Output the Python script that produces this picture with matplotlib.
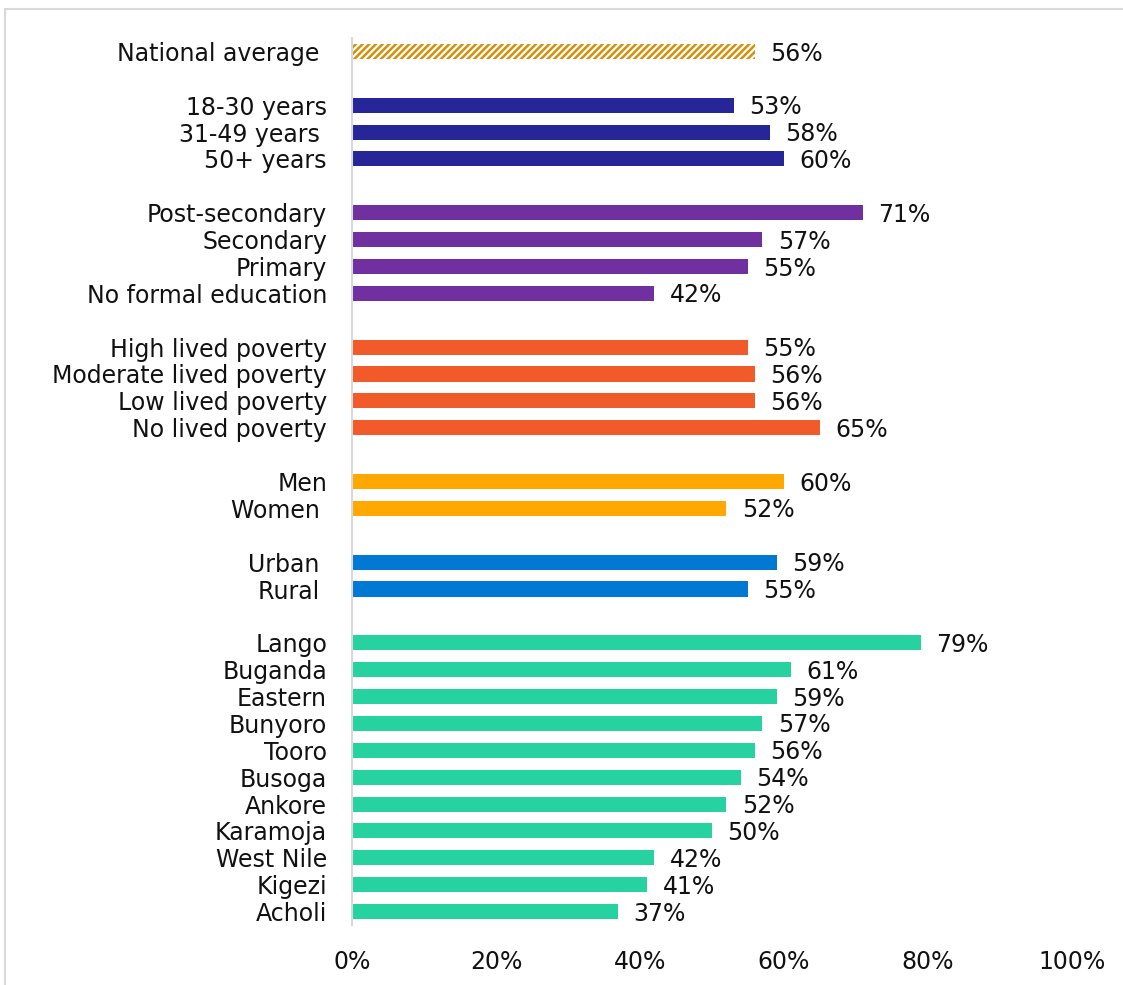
import matplotlib
matplotlib.use("Agg")
import matplotlib.pyplot as plt
from matplotlib.patches import Rectangle

plt.rcParams['font.family'] = ['DejaVu Sans']
plt.rcParams['hatch.linewidth'] = 1.8

# ---- data ----
national_label = ["National average "]
national_values = [56]

age_labels = ["18-30 years", "31-49 years ", "50+ years"]
age_values = [53, 58, 60]

edu_labels = ["Post-secondary", "Secondary", "Primary", "No formal education"]
edu_values = [71, 57, 55, 42]

pov_labels = ["High lived poverty", "Moderate lived poverty", "Low lived poverty", "No lived poverty"]
pov_values = [55, 56, 56, 65]

gender_labels = ["Men", "Women "]
gender_values = [60, 52]

loc_labels = ["Urban ", "Rural "]
loc_values = [59, 55]

region_labels = ["Lango", "Buganda", "Eastern", "Bunyoro", "Tooro", "Busoga",
                 "Ankore", "Karamoja", "West Nile", "Kigezi", "Acholi"]
region_values = [79, 61, 59, 57, 56, 54, 52, 50, 42, 41, 37]

x_ticks = [0, 20, 40, 60, 80, 100]
x_tick_labels = ["0%", "20%", "40%", "60%", "80%", "100%"]

groups = [
    (national_label, national_values, "#D4900A", True),
    (age_labels, age_values, "#262699", False),
    (edu_labels, edu_values, "#7030A0", False),
    (pov_labels, pov_values, "#F15A29", False),
    (gender_labels, gender_values, "#FFA800", False),
    (loc_labels, loc_values, "#0078D4", False),
    (region_labels, region_values, "#26D3A0", False),
]

FS = 17
W, H = 1123, 985
fig = plt.figure(figsize=(W / 100, H / 100), dpi=100)
ax = fig.add_axes([352 / W, 1 - 925 / H, (1072 - 352) / W, (925 - 38) / H])

positions, labels = [], []
pos = 0
for glabels, gvals, color, hatched in groups:
    for lab, v in zip(glabels, gvals):
        if hatched:
            ax.barh(pos, v, height=0.58, facecolor="white", edgecolor=color,
                    hatch="/////", linewidth=0)
        else:
            ax.barh(pos, v, height=0.56, color=color, linewidth=0)
        ax.annotate(f"{v}%", xy=(v, pos), xytext=(11, -1.5), textcoords="offset points",
                    ha="left", va="center", fontsize=FS, color="#111111")
        positions.append(pos)
        labels.append(lab)
        pos += 1
    pos += 1

ax.set_ylim(pos - 1.5, -0.5)
ax.set_xlim(0, 100)
ax.set_yticks(positions)
ax.set_yticklabels(labels, fontsize=FS, color="#111111")
ax.set_xticks(x_ticks)
ax.set_xticklabels(x_tick_labels, fontsize=FS, color="#111111")
ax.tick_params(axis="y", length=0, pad=18)
ax.tick_params(axis="x", length=0, pad=18)
for s in ["top", "right", "bottom"]:
    ax.spines[s].set_visible(False)
ax.spines["left"].set_color("#D9D9D9")
ax.spines["left"].set_linewidth(1.5)

# outer frame
fig.patches.append(Rectangle((4.5 / W, -0.05), 1.2, 1 - 8.5 / H + 0.05,
                             transform=fig.transFigure, fill=False,
                             edgecolor="#D9D9D9", linewidth=1.5))

fig.savefig("out.png", dpi=100)
